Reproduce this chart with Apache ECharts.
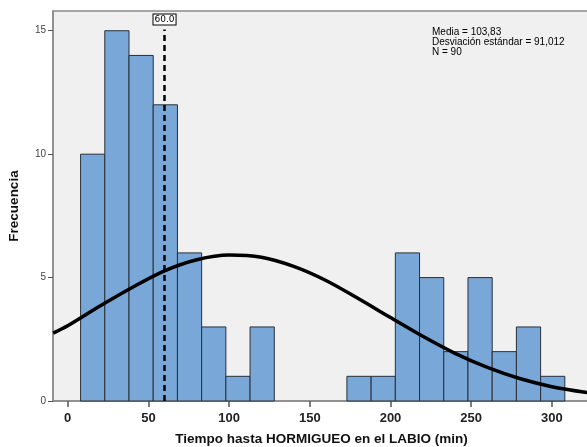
<!DOCTYPE html>
<html><head><meta charset="utf-8">
<script src="https://cdn.jsdelivr.net/npm/echarts@6/dist/echarts.min.js"></script>
<style>html,body{margin:0;padding:0;background:#fff}#c{width:587px;height:447px}</style>
</head><body><div id="c"></div>
<script>
// Histogram bins (start of each bin, width 15)
var binStarts = [8, 23, 38, 53, 68, 83, 98, 113, 128, 143, 158, 173, 188, 203, 218, 233, 248, 263, 278, 293];
var binWidth = 15;
var counts = [10, 15, 14, 12, 6, 3, 1, 3, 0, 0, 0, 1, 1, 6, 5, 2, 5, 2, 3, 1];
// Normal curve
var curveX = [-9, 0, 20, 40, 60, 80, 100, 120, 140, 160, 180, 200, 220, 240, 260, 280, 300, 323];
var curveY = [2.75, 3.05, 3.85, 4.6, 5.27, 5.72, 5.91, 5.82, 5.45, 4.88, 4.15, 3.38, 2.62, 1.93, 1.36, 0.91, 0.58, 0.33];
var xTicks = [0, 50, 100, 150, 200, 250, 300];
var yTicks = [0, 5, 10, 15];
var refValue = 60;
var statsLines = ['Media = 103,83', 'Desviación estándar = 91,012', 'N = 90'];

var barData = binStarts.map(function (s, i) { return [s, s + binWidth, counts[i]]; }).filter(function (d) { return d[2] > 0; });
var curveData = curveX.map(function (x, i) { return [x, curveY[i]]; });

var chart = echarts.init(document.getElementById('c'));
chart.setOption({
  animation: false,
  backgroundColor: '#ffffff',
  grid: { left: 53, right: -3, top: 11, bottom: 46, outerBoundsMode: 'none', containLabel: false, show: true, backgroundColor: '#f0f0f0', borderColor: '#8a8a8a', borderWidth: 1.5 },
  xAxis: {
    type: 'value', min: -9.1, max: 323.6,
    name: 'Tiempo hasta HORMIGUEO en el LABIO (min)', nameLocation: 'middle', nameGap: 31,
    nameTextStyle: { fontFamily: 'Liberation Sans', fontWeight: 'bold', fontSize: 13.5, color: '#111' },
    axisLine: { show: true, onZero: false, lineStyle: { color: '#8a8a8a', width: 1.5 } },
    axisTick: { show: true, length: 6, lineStyle: { color: '#555', width: 1.5 }, customValues: xTicks },
    axisLabel: { customValues: xTicks, fontFamily: 'Liberation Sans', fontWeight: 'bold', fontSize: 13, color: '#222', margin: 11 },
    splitLine: { show: false }
  },
  yAxis: {
    type: 'value', min: 0, max: 15.8,
    name: 'Frecuencia', nameLocation: 'middle', nameGap: 32, nameRotate: 90,
    nameTextStyle: { fontFamily: 'Liberation Sans', fontWeight: 'bold', fontSize: 13.5, color: '#111' },
    axisLine: { show: true, onZero: false, lineStyle: { color: '#8a8a8a', width: 1.5 } },
    axisTick: { show: true, length: 5, lineStyle: { color: '#555', width: 1 }, customValues: yTicks },
    axisLabel: { customValues: yTicks, fontFamily: 'Liberation Sans', fontSize: 10, color: '#444', margin: 7 },
    splitLine: { show: false }
  },
  series: [
    {
      type: 'custom',
      data: barData,
      renderItem: function (params, api) {
        var p0 = api.coord([api.value(0), 0]);
        var p1 = api.coord([api.value(1), api.value(2)]);
        return {
          type: 'rect',
          shape: { x: p0[0], y: p1[1], width: p1[0] - p0[0], height: p0[1] - p1[1] },
          style: { fill: '#79a8d8', stroke: '#2a2f36', lineWidth: 1 }
        };
      },
      z: 2
    },
    {
      type: 'line', data: curveData, smooth: 0.3, showSymbol: false,
      lineStyle: { color: '#000', width: 3.5 }, z: 4,
      markLine: {
        symbol: 'none', silent: true,
        lineStyle: { color: '#000', width: 2.5, type: [6, 4] },
        label: { show: true, position: 'end', formatter: '60.0', fontFamily: 'DejaVu Sans', fontSize: 9, color: '#000',
          backgroundColor: '#fff', borderColor: '#000', borderWidth: 1, padding: [1, 1, 0, 1], distance: 5 },
        data: [[{ coord: [refValue, 0] }, { coord: [refValue, 15.05] }]]
      }
    }
  ],
  graphic: [{
    type: 'text', left: 432, top: 27,
    style: { text: statsLines.join('\n'), fontFamily: 'Liberation Sans', fontSize: 10, lineHeight: 10, fill: '#000' }
  }]
});
</script></body></html>
